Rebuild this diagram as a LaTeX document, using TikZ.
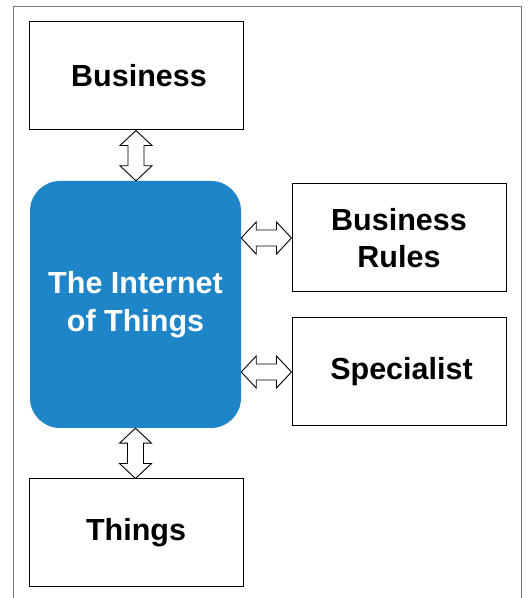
\documentclass[tikz,border=0pt]{standalone}
\usepackage{fontspec}
\setmainfont{Liberation Sans}
\usetikzlibrary{calc}
\definecolor{iotblue}{HTML}{1E86C8}
\definecolor{framegray}{HTML}{777777}
\tikzset{
  box/.style={draw=black, line width=1pt, fill=white, minimum width=214pt, minimum height=108pt, inner sep=0pt,
    align=center, font=\bfseries\fontsize{30.5}{37.5}\selectfont},
  iotbox/.style={fill=iotblue, rounded corners=30pt, minimum width=211pt, minimum height=247pt, inner sep=0pt,
    align=center, text=white, font=\bfseries\fontsize{30.5}{37.5}\selectfont},
  dblarrow/.style={draw=black, line width=0.9pt, fill=white, line join=miter}
}
\newcommand\dblarr[2]{%
  \draw[dblarrow] let \p1=#1, \p2=#2,
    \n1={veclen(\x2-\x1,\y2-\y1)}, \n2={atan2(\y2-\y1,\x2-\x1)} in
    [shift={(\p1)}, rotate=\n2]
    (0pt,0pt) -- (15pt,16pt) -- (15pt,8pt) -- (\n1-15pt,8pt) -- (\n1-15pt,16pt) -- (\n1,0pt)
    -- (\n1-15pt,-16pt) -- (\n1-15pt,-8pt) -- (15pt,-8pt) -- (15pt,-16pt) -- cycle;}
\begin{document}
\begin{tikzpicture}[x=1pt,y=1pt]
  \useasboundingbox (0,0) rectangle (528,598);
  \fill[white] (0,0) rectangle (528,598);
  \draw[framegray, line width=1pt] (13,-5) -- (13,591) -- (521,591) -- (521,-5);
  \node[box] (biz) at (136,522) {\hspace*{6pt}Business};
  \node[iotbox] (iot) at (135.5,293.5) {The Internet\\of Things};
  \node[box] (things) at (136,65) {Things};
  \node[box] (rules) at (399,360) {Business\\Rules};
  \node[box] (spec) at (399,226) {\hspace*{5pt}Specialist};
  \dblarr{(biz.south)}{(biz.south |- iot.north)}
  \dblarr{(iot.south)}{(iot.south |- things.north)}
  \dblarr{(iot.east |- rules.west)}{(rules.west)}
  \dblarr{(iot.east |- spec.west)}{(spec.west)}
\end{tikzpicture}
\end{document}
